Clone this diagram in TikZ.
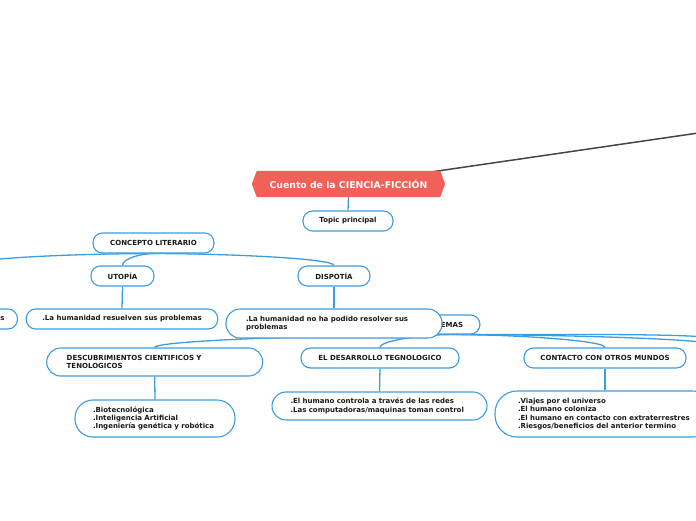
\documentclass[tikz,border=0pt]{standalone}
\usepackage{fontspec}
\setmainfont{DejaVu Sans}
\usepackage{tikz}
\usetikzlibrary{calc,positioning}
\pgfdeclarelayer{background}
\pgfsetlayers{background,main}
\definecolor{mmblue}{HTML}{3C9CE0}
\definecolor{rootred}{HTML}{F1615A}
\definecolor{darkline}{HTML}{454545}
\tikzset{
  idea/.style={draw=mmblue, line width=1.1pt, fill=white, rounded corners=9.5pt, minimum height=20pt, inner xsep=16pt, inner ysep=0pt, font=\fontsize{7}{8.4}\selectfont\bfseries, text=black!90},
  rootbox/.style={minimum width=183pt, minimum height=26pt, inner sep=0pt, text=white, font=\fontsize{9.3}{11}\selectfont\bfseries},
  link/.style={draw=mmblue, line width=1.3pt},
  curvy/.style={to path={.. controls ($(\tikztostart)!0.4!(\tikztotarget |- \tikztostart)$) and ($(\tikztotarget)+(0,-7)$) .. (\tikztotarget)}}
}
\begin{document}
\begin{tikzpicture}[x=1pt,y=-1pt]
\useasboundingbox (0,0) rectangle (696,520);

\node (root) at (348.5,184) [rootbox] {Cuento de la CIENCIA-FICCIÓN};
\node (topic) at (348,221) [idea, minimum width=90pt] {Topic principal};

\node (concepto) at (153.5,243) [idea, minimum width=121pt] {CONCEPTO LITERARIO};
\node (utopia) at (122.5,276) [idea, minimum width=63pt] {UTOPÍA};
\node (dispotia) at (334,276) [idea, minimum width=72pt] {DISPOTÍA};
\node (leftidea) at (18,319) [idea, anchor=east, inner xsep=13pt, text width=100pt, align=right] {s};
\node (utopiaidea) at (122,319) [idea, minimum width=190pt] {.La humanidad resuelven sus problemas};

\node (temas) at (452,324.5) [idea, minimum width=56pt, minimum height=19pt] {EMAS};
\node (dispotiaidea) at (334,323.5) [idea, minimum width=216pt, minimum height=29pt, rounded corners=14pt, text width=176pt, align=left] {.La humanidad no ha podido resolver sus\\problemas};

\node (descubr) at (154.7,362) [idea, minimum width=216pt, minimum height=28pt, rounded corners=14pt, text width=176pt, align=left] {DESCUBRIMIENTOS CIENTIFICOS Y\\TENOLOGICOS};
\node (descubridea) at (155,418.5) [idea, minimum width=160pt, minimum height=37pt, rounded corners=18pt, text width=124pt, align=left] {.Biotecnológica\\.Inteligencia Artificial\\.Ingeniería genética y robótica};

\node (desarrollo) at (380,358) [idea, minimum width=158pt] {EL DESARROLLO TEGNOLOGICO};
\node (desarrolloidea) at (379.5,406) [idea, minimum width=215pt, minimum height=28pt, rounded corners=14pt, text width=178pt, align=left] {.El humano controla a través de las redes\\.Las computadoras/maquinas toman control};

\node (contacto) at (605,358) [idea, minimum width=162pt] {CONTACTO CON OTROS MUNDOS};
\node (contactoidea) at (605,414) [idea, minimum width=220pt, minimum height=46pt, rounded corners=22pt, text width=174pt, align=left] {.Viajes por el universo\\.El humano coloniza\\.El humano en contacto con extraterrestres\\.Riesgos/beneficios del anterior termino};

\coordinate (offtop) at (760,124);
\coordinate (offleft) at (-30,265);
\coordinate (offright1) at (720,340);
\coordinate (offright2) at (720,346);

\begin{pgfonlayer}{background}
\draw[darkline, line width=1.5pt] (root.center) -- (offtop);
\draw[link] (root.south) -- (topic.north);
\draw[link] (concepto.south) to[curvy] (offleft);
\draw[link] (concepto.south) to[curvy] (utopia.north);
\draw[link] (concepto.south) to[curvy] (dispotia.north);
\draw[link] (utopia.south) -- (utopiaidea.north);
\draw[link] (dispotia.south) -- (dispotiaidea.north);
\draw[link] (temas.south) to[curvy] (descubr.north);
\draw[link] (temas.south) to[curvy] (desarrollo.north);
\draw[link] (temas.south) to[curvy] (contacto.north);
\draw[link] (temas.south) to[curvy] (offright1);
\draw[link] (temas.south) to[curvy] (offright2);
\draw[link] (descubr.south) -- (descubridea.north);
\draw[link] (desarrollo.south) -- (desarrolloidea.north);
\draw[link] (contacto.south) -- (contactoidea.north);
% root shape
\fill[rootred] ([xshift=-5pt]root.west) -- (root.north west) -- (root.north east) -- ([xshift=5pt]root.east) -- (root.south east) -- (root.south west) -- cycle;
\end{pgfonlayer}
\end{tikzpicture}
\end{document}
